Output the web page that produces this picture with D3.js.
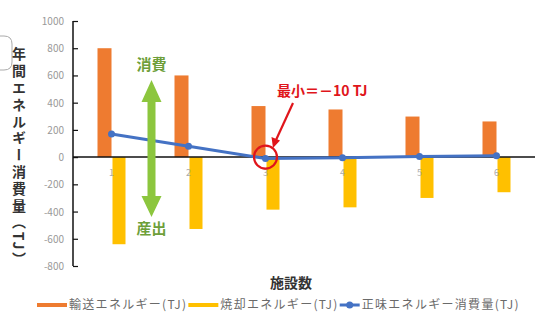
<!DOCTYPE html>
<html><head><meta charset="utf-8">
<script src="https://cdn.jsdelivr.net/npm/d3@7"></script>
<style>
html,body{margin:0;padding:0;background:#fff;}
text{font-family:"Noto Sans CJK JP","Noto Sans",sans-serif;}
</style></head>
<body>
<svg id="c" width="547" height="316"></svg>
<script>
const categories = ["1","2","3","4","5","6"];
const transport = [800, 600, 375, 350, 298, 262];
const incineration = [-640, -528, -386, -369, -300, -258];
const net = [170, 80, -10, -5, 5, 10];
const yTicks = [1000, 800, 600, 400, 200, 0, -200, -400, -600, -800];
const seriesNames = ["輸送エネルギー(TJ)", "焼却エネルギー(TJ)", "正味エネルギー消費量(TJ)"];
const colors = ["#ee7b30", "#ffc000", "#4472c4"];

const svg = d3.select("#c");
const x = d3.scaleBand().domain(categories).range([73, 535]);
const y = d3.scaleLinear().domain([-800, 1000]).range([266, 21]);
const bw = 14;

// left edge artifact box
svg.append("path").attr("d","M-5,36 H4 Q12,36 12,44 V62 Q12,70 4,70 H-5")
  .attr("fill","none").attr("stroke","#aaa").attr("stroke-width",1);

// y axis
const yAxis = d3.axisRight(y).tickValues(yTicks).tickSize(5).tickFormat("");
const ga = svg.append("g").attr("transform","translate(73,0)").call(yAxis);
ga.select(".domain").attr("stroke","#111").attr("stroke-width",1.5).attr("d","M0,21V266");
ga.selectAll(".tick line").attr("stroke","#111").attr("stroke-width",1.2);
svg.append("g").selectAll("text").data(yTicks).join("text")
  .attr("x",64).attr("y",d=>y(d)+4).attr("text-anchor","end")
  .attr("font-size",10).attr("fill","#999").text(d=>d);

// bars
svg.append("g").selectAll("rect").data(transport).join("rect")
  .attr("x",(d,i)=>x(categories[i])+x.bandwidth()/2-bw)
  .attr("width",bw).attr("y",d=>y(d)).attr("height",d=>y(0)-y(d)).attr("fill",colors[0]);
svg.append("g").selectAll("rect").data(incineration).join("rect")
  .attr("x",(d,i)=>x(categories[i])+x.bandwidth()/2+1)
  .attr("width",bw-1).attr("y",y(0)).attr("height",d=>y(d)-y(0)).attr("fill",colors[1]);

// x axis line
svg.append("line").attr("x1",73).attr("x2",535).attr("y1",y(0)).attr("y2",y(0))
  .attr("stroke","#111").attr("stroke-width",1.5);
// category labels
svg.append("g").selectAll("text").data(categories).join("text")
  .attr("x",d=>x(d)+x.bandwidth()/2).attr("y",176).attr("text-anchor","middle")
  .attr("font-size",9).attr("fill","#aaa").text(d=>d);

// net line
const line = d3.line().x((d,i)=>x(categories[i])+x.bandwidth()/2).y(d=>y(d));
svg.append("path").datum(net).attr("d",line).attr("fill","none")
  .attr("stroke",colors[2]).attr("stroke-width",3);
svg.append("g").selectAll("circle").data(net).join("circle")
  .attr("cx",(d,i)=>x(categories[i])+x.bandwidth()/2).attr("cy",d=>y(d)).attr("r",3.5)
  .attr("fill",colors[2]);

// green double arrow
const g = svg.append("g").attr("fill","#8cc63e");
const ax = 151.5;
g.append("path").attr("d",`M${ax},80 L${ax+10},102 L${ax+4},102 L${ax+4},196 L${ax+10},196 L${ax},217 L${ax-10},196 L${ax-4},196 L${ax-4},102 L${ax-10},102 Z`);
svg.append("text").attr("x",ax).attr("y",70).attr("text-anchor","middle")
  .attr("font-size",15).attr("font-weight","bold").attr("fill","#6e9f3a").text("消費");
svg.append("text").attr("x",ax).attr("y",234).attr("text-anchor","middle")
  .attr("font-size",15).attr("font-weight","bold").attr("fill","#6e9f3a").text("産出");

// red annotation
const minI = net.indexOf(d3.min(net));
const cx = x(categories[minI])+x.bandwidth()/2;
svg.append("circle").attr("cx",cx).attr("cy",y(0)).attr("r",11.5)
  .attr("fill","none").attr("stroke","#e0151b").attr("stroke-width",2.2);
svg.append("line").attr("x1",293).attr("y1",103).attr("x2",276).attr("y2",140)
  .attr("stroke","#e0151b").attr("stroke-width",2.2);
svg.append("path").attr("d","M273,148 L271.5,137 L280,140.5 Z").attr("fill","#e0151b");
svg.append("text").attr("x",277).attr("y",96).attr("font-size",14).attr("font-weight","bold")
  .attr("fill","#e0151b").text("最小＝－" + Math.abs(d3.min(net)) + " TJ");

// y title (vertical)
svg.append("text").attr("x",19).attr("y",47)
  .style("writing-mode","vertical-rl").attr("font-size",14).attr("font-weight","bold")
  .attr("fill","#333").attr("letter-spacing",2.8).text("年間エネルギー消費量（TJ）");

// x title
svg.append("text").attr("x",291).attr("y",288).attr("text-anchor","middle")
  .attr("font-size",14).attr("font-weight","bold").attr("fill","#333").text("施設数");

// legend
const leg = svg.append("g");
let lx = 37;
const sw = [30, 30, 20];
seriesNames.forEach((name,i)=>{
  if(i<2){
    leg.append("rect").attr("x",lx).attr("y",303).attr("width",sw[i]).attr("height",4).attr("fill",colors[i]);
  } else {
    leg.append("line").attr("x1",lx).attr("x2",lx+sw[i]).attr("y1",305).attr("y2",305)
      .attr("stroke",colors[2]).attr("stroke-width",3);
    leg.append("circle").attr("cx",lx+sw[i]/2).attr("cy",305).attr("r",3.5).attr("fill",colors[2]);
  }
  lx += sw[i] + 2;
  const t = leg.append("text").attr("x",lx).attr("y",309).attr("font-size",12)
    .attr("letter-spacing",1.3).attr("fill","#6a6a6a").text(name);
  lx += t.node().getComputedTextLength() + 1;
});
</script>
</body></html>
